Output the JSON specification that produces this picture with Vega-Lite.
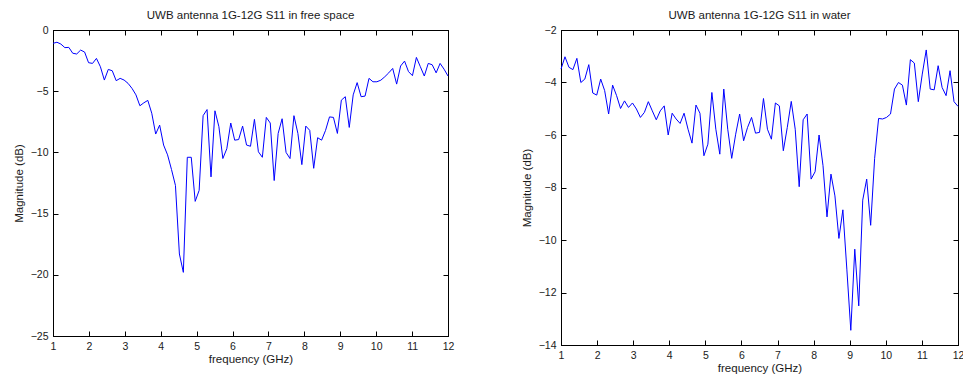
{
  "$schema": "https://vega.github.io/schema/vega-lite/v6.json",
  "background": "white",
  "padding": {"left": 12, "top": 9, "right": 0, "bottom": 0},
  "autosize": {"type": "pad"},
  "config": {
    "font": "Liberation Sans",
    "view": {"stroke": "black", "strokeWidth": 1},
    "axis": {
      "grid": false,
      "domainColor": "black",
      "domainWidth": 1,
      "tickColor": "black",
      "tickSize": -5,
      "tickWidth": 1,
      "labelFont": "Liberation Sans",
      "labelFontSize": 10.5,
      "labelColor": "#1a1a1a",
      "labelFlush": false,
      "labelOverlap": false,
      "titleFont": "Liberation Sans",
      "titleFontSize": 11.5,
      "titleFontWeight": "normal",
      "titleColor": "#1a1a1a"
    },
    "title": {"font": "Liberation Sans", "fontSize": 11.5, "fontWeight": "normal", "color": "#1a1a1a", "offset": 4}
  },
  "datasets": {
    "free": [
      {"f": 1.00, "s11": -1.09}, {"f": 1.11, "s11": -1.0}, {"f": 1.22, "s11": -1.15}, {"f": 1.33, "s11": -1.44}, {"f": 1.44, "s11": -1.42},
      {"f": 1.55, "s11": -1.9}, {"f": 1.66, "s11": -1.96}, {"f": 1.77, "s11": -1.64}, {"f": 1.88, "s11": -1.8}, {"f": 1.99, "s11": -2.67},
      {"f": 2.10, "s11": -2.73}, {"f": 2.21, "s11": -2.32}, {"f": 2.32, "s11": -3.0}, {"f": 2.43, "s11": -4.09}, {"f": 2.54, "s11": -3.22},
      {"f": 2.65, "s11": -3.33}, {"f": 2.76, "s11": -4.14}, {"f": 2.87, "s11": -3.95}, {"f": 2.98, "s11": -4.09}, {"f": 3.09, "s11": -4.36},
      {"f": 3.20, "s11": -4.77}, {"f": 3.31, "s11": -5.3}, {"f": 3.42, "s11": -6.19}, {"f": 3.53, "s11": -5.95}, {"f": 3.64, "s11": -5.75},
      {"f": 3.75, "s11": -6.8}, {"f": 3.86, "s11": -8.5}, {"f": 3.97, "s11": -7.77}, {"f": 4.08, "s11": -9.4}, {"f": 4.19, "s11": -10.2},
      {"f": 4.30, "s11": -11.4}, {"f": 4.41, "s11": -12.7}, {"f": 4.52, "s11": -18.3}, {"f": 4.63, "s11": -19.8}, {"f": 4.74, "s11": -10.4},
      {"f": 4.85, "s11": -10.4}, {"f": 4.96, "s11": -14.0}, {"f": 5.07, "s11": -13.1}, {"f": 5.18, "s11": -7.0}, {"f": 5.29, "s11": -6.5},
      {"f": 5.40, "s11": -12.0}, {"f": 5.51, "s11": -6.6}, {"f": 5.62, "s11": -7.9}, {"f": 5.73, "s11": -10.5}, {"f": 5.84, "s11": -9.7},
      {"f": 5.95, "s11": -7.6}, {"f": 6.06, "s11": -9.0}, {"f": 6.17, "s11": -8.95}, {"f": 6.28, "s11": -7.85}, {"f": 6.39, "s11": -9.4},
      {"f": 6.50, "s11": -9.5}, {"f": 6.61, "s11": -7.3}, {"f": 6.72, "s11": -9.95}, {"f": 6.83, "s11": -10.4}, {"f": 6.94, "s11": -7.14},
      {"f": 7.05, "s11": -7.6}, {"f": 7.16, "s11": -12.3}, {"f": 7.27, "s11": -8.45}, {"f": 7.38, "s11": -7.25}, {"f": 7.49, "s11": -10.0},
      {"f": 7.60, "s11": -10.5}, {"f": 7.71, "s11": -7.0}, {"f": 7.82, "s11": -8.45}, {"f": 7.93, "s11": -11.0}, {"f": 8.04, "s11": -7.85},
      {"f": 8.15, "s11": -8.2}, {"f": 8.26, "s11": -11.3}, {"f": 8.37, "s11": -8.8}, {"f": 8.48, "s11": -9.0}, {"f": 8.59, "s11": -8.2},
      {"f": 8.70, "s11": -7.1}, {"f": 8.81, "s11": -7.14}, {"f": 8.92, "s11": -8.45}, {"f": 9.03, "s11": -5.73}, {"f": 9.14, "s11": -5.45},
      {"f": 9.25, "s11": -7.96}, {"f": 9.36, "s11": -5.3}, {"f": 9.47, "s11": -4.3}, {"f": 9.58, "s11": -5.45}, {"f": 9.69, "s11": -5.4},
      {"f": 9.80, "s11": -3.95}, {"f": 9.91, "s11": -4.23}, {"f": 10.02, "s11": -4.23}, {"f": 10.13, "s11": -4.1}, {"f": 10.24, "s11": -3.82},
      {"f": 10.35, "s11": -3.5}, {"f": 10.46, "s11": -3.14}, {"f": 10.57, "s11": -4.42}, {"f": 10.68, "s11": -2.94}, {"f": 10.79, "s11": -2.54},
      {"f": 10.90, "s11": -3.4}, {"f": 11.01, "s11": -3.73}, {"f": 11.12, "s11": -2.24}, {"f": 11.23, "s11": -3.0}, {"f": 11.34, "s11": -3.76},
      {"f": 11.45, "s11": -2.73}, {"f": 11.56, "s11": -2.84}, {"f": 11.67, "s11": -3.5}, {"f": 11.78, "s11": -2.73}, {"f": 11.89, "s11": -3.2},
      {"f": 12.00, "s11": -3.76}
    ],
    "water": [
      {"f": 1.00, "s11": -3.49}, {"f": 1.11, "s11": -3.02}, {"f": 1.22, "s11": -3.42}, {"f": 1.33, "s11": -3.51}, {"f": 1.44, "s11": -3.08},
      {"f": 1.55, "s11": -4.0}, {"f": 1.66, "s11": -3.87}, {"f": 1.77, "s11": -3.32}, {"f": 1.88, "s11": -4.4}, {"f": 1.99, "s11": -4.48},
      {"f": 2.10, "s11": -3.87}, {"f": 2.21, "s11": -4.31}, {"f": 2.32, "s11": -5.2}, {"f": 2.43, "s11": -4.1}, {"f": 2.54, "s11": -4.5},
      {"f": 2.65, "s11": -4.99}, {"f": 2.76, "s11": -4.7}, {"f": 2.87, "s11": -4.95}, {"f": 2.98, "s11": -4.78}, {"f": 3.09, "s11": -5.01},
      {"f": 3.20, "s11": -5.33}, {"f": 3.31, "s11": -5.14}, {"f": 3.42, "s11": -4.73}, {"f": 3.53, "s11": -5.08}, {"f": 3.64, "s11": -5.42},
      {"f": 3.75, "s11": -5.08}, {"f": 3.86, "s11": -4.89}, {"f": 3.97, "s11": -6.0}, {"f": 4.08, "s11": -5.17}, {"f": 4.19, "s11": -5.39},
      {"f": 4.30, "s11": -5.56}, {"f": 4.41, "s11": -5.17}, {"f": 4.52, "s11": -5.78}, {"f": 4.63, "s11": -6.31}, {"f": 4.74, "s11": -4.86},
      {"f": 4.85, "s11": -5.17}, {"f": 4.96, "s11": -6.79}, {"f": 5.07, "s11": -6.35}, {"f": 5.18, "s11": -4.38}, {"f": 5.29, "s11": -5.78},
      {"f": 5.40, "s11": -6.73}, {"f": 5.51, "s11": -4.25}, {"f": 5.62, "s11": -5.78}, {"f": 5.73, "s11": -6.89}, {"f": 5.84, "s11": -5.97},
      {"f": 5.95, "s11": -5.2}, {"f": 6.06, "s11": -6.22}, {"f": 6.17, "s11": -5.71}, {"f": 6.28, "s11": -5.33}, {"f": 6.39, "s11": -5.93},
      {"f": 6.50, "s11": -5.9}, {"f": 6.61, "s11": -4.61}, {"f": 6.72, "s11": -5.78}, {"f": 6.83, "s11": -6.16}, {"f": 6.94, "s11": -4.78},
      {"f": 7.05, "s11": -4.89}, {"f": 7.16, "s11": -6.6}, {"f": 7.27, "s11": -5.71}, {"f": 7.38, "s11": -4.72}, {"f": 7.49, "s11": -5.78},
      {"f": 7.60, "s11": -7.97}, {"f": 7.71, "s11": -5.42}, {"f": 7.82, "s11": -5.2}, {"f": 7.93, "s11": -7.68}, {"f": 8.04, "s11": -7.4},
      {"f": 8.15, "s11": -6.0}, {"f": 8.26, "s11": -7.17}, {"f": 8.37, "s11": -9.12}, {"f": 8.48, "s11": -7.49}, {"f": 8.59, "s11": -8.32},
      {"f": 8.70, "s11": -9.94}, {"f": 8.81, "s11": -8.85}, {"f": 8.92, "s11": -11.11}, {"f": 9.03, "s11": -13.44}, {"f": 9.14, "s11": -10.35},
      {"f": 9.25, "s11": -12.51}, {"f": 9.36, "s11": -8.48}, {"f": 9.47, "s11": -7.68}, {"f": 9.58, "s11": -9.44}, {"f": 9.69, "s11": -6.89},
      {"f": 9.80, "s11": -5.37}, {"f": 9.91, "s11": -5.39}, {"f": 10.02, "s11": -5.33}, {"f": 10.13, "s11": -5.2}, {"f": 10.24, "s11": -4.25},
      {"f": 10.35, "s11": -4.0}, {"f": 10.46, "s11": -4.1}, {"f": 10.57, "s11": -4.86}, {"f": 10.68, "s11": -3.13}, {"f": 10.79, "s11": -3.26},
      {"f": 10.90, "s11": -4.73}, {"f": 11.01, "s11": -3.68}, {"f": 11.12, "s11": -2.76}, {"f": 11.23, "s11": -4.25}, {"f": 11.34, "s11": -4.28},
      {"f": 11.45, "s11": -3.36}, {"f": 11.56, "s11": -4.19}, {"f": 11.67, "s11": -4.5}, {"f": 11.78, "s11": -3.55}, {"f": 11.89, "s11": -4.73},
      {"f": 12.00, "s11": -4.91}
    ]
  },
  "spacing": 65,
  "hconcat": [
    {
      "width": 395,
      "height": 306,
      "title": "UWB antenna 1G-12G S11 in free space",
      "data": {"name": "free"},
      "layer": [
        {
          "mark": {"type": "line", "color": "#0000ff", "strokeWidth": 1},
          "encoding": {
            "x": {"field": "f", "type": "quantitative", "scale": {"domain": [1, 12], "nice": false, "zero": false},
                  "axis": {"orient": "bottom", "values": [1, 2, 3, 4, 5, 6, 7, 8, 9, 10, 11, 12], "title": "frequency (GHz)", "labelPadding": 10, "titlePadding": 2}},
            "y": {"field": "s11", "type": "quantitative", "scale": {"domain": [-25, 0], "nice": false, "zero": false},
                  "axis": {"orient": "left", "values": [0, -5, -10, -15, -20, -25], "title": "Magnitude (dB)", "labelPadding": 10, "titlePadding": 6}}
          }
        },
        {
          "mark": {"type": "line", "opacity": 0},
          "encoding": {
            "x": {"field": "f", "type": "quantitative", "scale": {"domain": [1, 12], "nice": false, "zero": false},
                  "axis": {"orient": "top", "values": [1, 2, 3, 4, 5, 6, 7, 8, 9, 10, 11, 12], "labels": false, "title": null}},
            "y": {"field": "s11", "type": "quantitative", "scale": {"domain": [-25, 0], "nice": false, "zero": false},
                  "axis": {"orient": "right", "values": [0, -5, -10, -15, -20, -25], "labels": false, "title": null}}
          }
        }
      ],
      "resolve": {"axis": {"x": "independent", "y": "independent"}}
    },
    {
      "width": 397,
      "height": 315,
      "title": "UWB antenna 1G-12G S11 in water",
      "data": {"name": "water"},
      "layer": [
        {
          "mark": {"type": "line", "color": "#0000ff", "strokeWidth": 1},
          "encoding": {
            "x": {"field": "f", "type": "quantitative", "scale": {"domain": [1, 12], "nice": false, "zero": false},
                  "axis": {"orient": "bottom", "values": [1, 2, 3, 4, 5, 6, 7, 8, 9, 10, 11, 12], "title": "frequency (GHz)", "labelPadding": 10, "titlePadding": 2}},
            "y": {"field": "s11", "type": "quantitative", "scale": {"domain": [-14, -2], "nice": false, "zero": false},
                  "axis": {"orient": "left", "values": [-2, -4, -6, -8, -10, -12, -14], "title": "Magnitude (dB)", "labelPadding": 10, "titlePadding": 6}}
          }
        },
        {
          "mark": {"type": "line", "opacity": 0},
          "encoding": {
            "x": {"field": "f", "type": "quantitative", "scale": {"domain": [1, 12], "nice": false, "zero": false},
                  "axis": {"orient": "top", "values": [1, 2, 3, 4, 5, 6, 7, 8, 9, 10, 11, 12], "labels": false, "title": null}},
            "y": {"field": "s11", "type": "quantitative", "scale": {"domain": [-14, -2], "nice": false, "zero": false},
                  "axis": {"orient": "right", "values": [-2, -4, -6, -8, -10, -12, -14], "labels": false, "title": null}}
          }
        }
      ],
      "resolve": {"axis": {"x": "independent", "y": "independent"}}
    }
  ]
}
